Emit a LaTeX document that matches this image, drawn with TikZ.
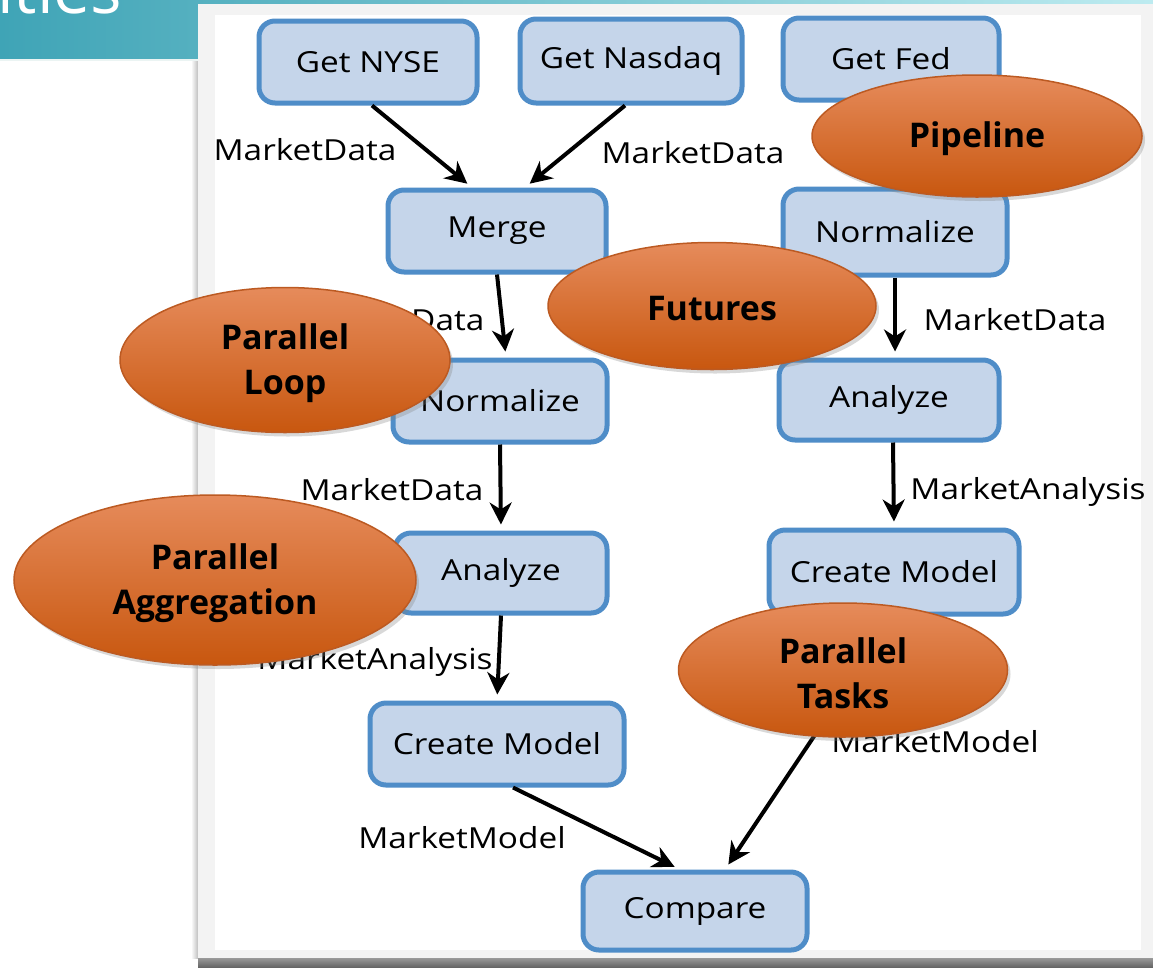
\documentclass[tikz,border=0pt]{standalone}
\usepackage{fontspec}
\setmainfont{Open Sans}
\newfontfamily\sketchfont[FakeStretch=1.15]{Open Sans}
\usetikzlibrary{arrows.meta,shadows,shapes.geometric}

\definecolor{boxfill}{HTML}{C5D5EA}
\definecolor{boxline}{HTML}{4F8DC8}
\definecolor{ovaltop}{HTML}{E68B5B}
\definecolor{ovalbot}{HTML}{C8570F}
\definecolor{ovalrim}{HTML}{BC5A22}
\definecolor{tealA}{HTML}{3FA4B6}
\definecolor{tealB}{HTML}{7CB4AE}
\definecolor{tealC}{HTML}{BDEBF0}
\definecolor{frame}{HTML}{F3F3F3}

\tikzset{
  stage/.style={rectangle, rounded corners=16pt, draw=boxline, line width=5pt,
    fill=boxfill, font=\sketchfont\fontsize{29}{34}\selectfont, inner sep=0pt},
  flow/.style={line width=4pt, -{Stealth[length=22pt,width=22pt,inset=7pt]},
    shorten >=6pt},
  datalabel/.style={font=\sketchfont\fontsize{29}{34}\selectfont, inner sep=0pt},
  pattern/.style={ellipse, top color=ovaltop, bottom color=ovalbot,
    draw=ovalrim, line width=1.5pt,
    drop shadow={opacity=0.3, shadow xshift=3pt, shadow yshift=-4pt}},
  patternlabel/.style={font=\bfseries\fontsize{34}{45}\selectfont, align=center,
    yshift=-3pt}
}

\begin{document}
\begin{tikzpicture}[x=1pt,y=-1pt]
\useasboundingbox (0,0) rectangle (1153,967);

% slide header band
\fill[left color=tealA, middle color=tealB, right color=tealC] (0,0) rectangle (1153,60);
\fill[white!85!tealB] (0,59) rectangle (198,61);
\node[anchor=base west, text=white, font=\fontsize{66}{70}\selectfont, inner sep=0pt]
  (title) at (-3,13) {ities};

% picture card
\fill[left color=white, right color=black!25] (191,61) rectangle (198,958);
\fill[frame] (198,4) rectangle (1153,958);
\fill[white] (215,15) rectangle (1141,950);
\fill[top color=black!40, bottom color=black!60] (198,958) rectangle (1153,967);

% stages
\node[stage, minimum width=218, minimum height=82] (nyse)    at (368,62)  {Get NYSE};
\node[stage, minimum width=222, minimum height=84] (nasdaq)  at (631,61)  {Get Nasdaq};
\node[stage, minimum width=216, minimum height=82] (fed)     at (891,59)  {Get Fed};
\node[stage, minimum width=218, minimum height=82] (merge)   at (497,231) {Merge};
\node[stage, minimum width=224, minimum height=86] (normR)   at (895,232) {Normalize};
\node[stage, minimum width=214, minimum height=82] (normL)   at (500,401) {Normalize};
\node[stage, minimum width=220, minimum height=80] (anaR)    at (889,400) {Analyze};
\node[stage, minimum width=212, minimum height=80] (anaL)    at (501,573) {Analyze};
\node[stage, minimum width=250, minimum height=84] (cmR)     at (894,572) {Create Model};
\node[stage, minimum width=254, minimum height=82] (cmL)     at (497,744) {Create Model};
\node[stage, minimum width=224, minimum height=78] (compare) at (695,911) {Compare};

% data flow
\draw[flow] ([xshift=4pt]nyse.south) -- ([xshift=-25pt]merge.north);
\draw[flow] ([xshift=-6pt]nasdaq.south) -- ([xshift=28pt]merge.north);
\draw[flow] (merge.south) -- ([xshift=6pt]normL.north);
\draw[flow] (normR.south) -- ([xshift=6pt]anaR.north);
\draw[flow] (normL.south) -- (anaL.north);
\draw[flow] ([xshift=4pt]anaR.south) -- (cmR.north);
\draw[flow] (anaL.south) -- (cmL.north);
\draw[flow] ([xshift=16pt]cmL.south) -- ([xshift=-15pt]compare.north);
\draw[flow] (cmR.south) -- ([xshift=30pt]compare.north);

% edge labels
\node[datalabel] (l1) at (305,150)  {MarketData};
\node[datalabel] (l2) at (693,153)  {MarketData};
\node[datalabel] (l3) at (393,320)  {MarketData};
\node[datalabel] (l4) at (1015,320) {MarketData};
\node[datalabel] (l5) at (392,490)  {MarketData};
\node[datalabel] (l6) at (1028,492) {MarketAnalysis};
\node[datalabel] (l7) at (375,662)  {MarketAnalysis};
\node[datalabel] (l8) at (935,742)  {MarketModel};
\node[datalabel] (l9) at (462,838)  {MarketModel};

% parallel patterns
\node[pattern, minimum width=330, minimum height=122,
  label={[patternlabel]center:Pipeline}] (pipeline) at (977,136) {};
\node[pattern, minimum width=328, minimum height=127,
  label={[patternlabel]center:Futures}] (futures) at (712,306) {};
\node[pattern, minimum width=330, minimum height=145,
  label={[patternlabel]center:Parallel\\Loop}] (ploop) at (285,360) {};
\node[pattern, minimum width=402, minimum height=170,
  label={[patternlabel]center:Parallel\\Aggregation}] (pagg) at (215,580) {};
\node[pattern, minimum width=329, minimum height=134,
  label={[patternlabel]center:Parallel\\Tasks}] (ptasks) at (843,670) {};
\end{tikzpicture}
\end{document}
